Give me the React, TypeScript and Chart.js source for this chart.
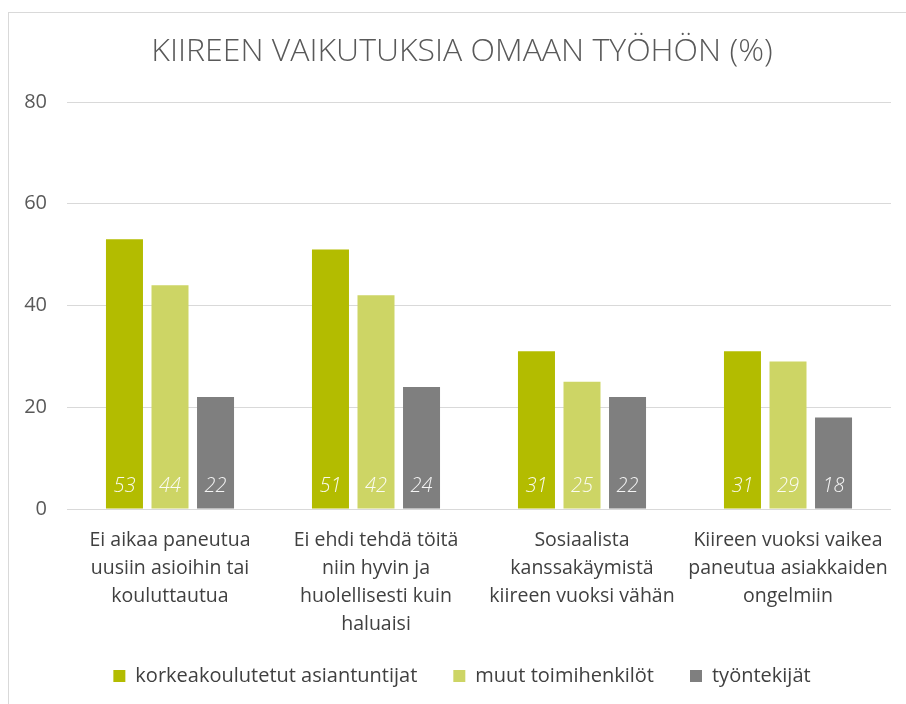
import React, { useEffect, useRef } from "react";
import { Chart, registerables } from "chart.js";

Chart.register(...registerables);

const TITLE = "KIIREEN VAIKUTUKSIA OMAAN TYÖHÖN (%)";

const categories: string[][] = [
  ["Ei aikaa paneutua", "uusiin asioihin tai", "kouluttautua"],
  ["Ei ehdi tehdä töitä", "niin hyvin ja", "huolellisesti kuin", "haluaisi"],
  ["Sosiaalista", "kanssakäymistä", "kiireen vuoksi vähän"],
  ["Kiireen vuoksi vaikea", "paneutua asiakkaiden", "ongelmiin"],
];

const seriesNames = ["korkeakoulutetut asiantuntijat", "muut toimihenkilöt", "työntekijät"];

const korkeakoulutetut = [53, 51, 31, 31];
const toimihenkilot = [44, 42, 25, 29];
const tyontekijat = [22, 24, 22, 18];

const colors = ["#b3bc00", "#cdd565", "#7f7f7f"];

const yTicks = [0, 20, 40, 60, 80];

const FONT = "'Open Sans', 'Noto Sans', sans-serif";

const valueLabels = {
  id: "valueLabels",
  afterLayout(chart: any) {
    // let axis labels draw outside the fitted boxes without being clipped
    chart.scales.y.left = 0;
    chart.scales.x.bottom = chart.height;
  },
  afterDatasetsDraw(chart: any) {
    const ctx = chart.ctx;
    const y0 = chart.scales.y.getPixelForValue(0);
    ctx.save();
    ctx.font = `italic 300 20px ${FONT}`;
    ctx.textAlign = "center";
    ctx.textBaseline = "middle";
    ctx.fillStyle = "rgba(255,255,255,0.92)";
    chart.data.datasets.forEach((ds: any, di: number) => {
      const meta = chart.getDatasetMeta(di);
      meta.data.forEach((el: any, i: number) => {
        ctx.fillText(String(ds.data[i]), el.x, y0 - 23);
      });
    });
    ctx.restore();
  },
};

export default function App() {
  const ref = useRef<HTMLCanvasElement | null>(null);

  useEffect(() => {
    if (!ref.current) return;
    const chart = new Chart(ref.current, {
      type: "bar",
      data: {
        labels: categories,
        datasets: [
          { label: seriesNames[0], data: korkeakoulutetut, backgroundColor: colors[0] },
          { label: seriesNames[1], data: toimihenkilot, backgroundColor: colors[1] },
          { label: seriesNames[2], data: tyontekijat, backgroundColor: colors[2] },
        ],
      },
      options: {
        responsive: false,
        animation: false,
        devicePixelRatio: 1,
        layout: { padding: { left: 24, right: 32, top: 0, bottom: 8 } },
        datasets: {
          bar: { categoryPercentage: 0.663, barPercentage: 0.813 },
        },
        scales: {
          x: {
            grid: { display: false, drawTicks: false },
            border: { display: false },
            afterFit: (scale: any) => {
              scale.height = 121;
            },
            ticks: {
              color: "#404040",
              font: { family: FONT, size: 19.5, lineHeight: 1.436 },
              padding: 17,
              maxRotation: 0,
              autoSkip: false,
            },
          },
          y: {
            min: 0,
            max: 80,
            afterBuildTicks: (scale: any) => {
              scale.ticks = yTicks.map((v) => ({ value: v }));
            },
            afterFit: (scale: any) => {
              scale.width = 34;
            },
            grid: { color: "#d9d9d9", drawTicks: false },
            border: { display: false },
            ticks: {
              color: "#595959",
              font: { family: FONT, size: 20 },
              padding: 20,
            },
          },
        },
        plugins: {
          title: {
            display: true,
            text: TITLE,
            color: "#595959",
            font: { family: FONT, size: 32, weight: "300", lineHeight: 1.2 },
            padding: { top: 20, bottom: 30.6 },
          },
          legend: {
            position: "bottom",
            labels: {
              color: "#404040",
              font: { family: FONT, size: 20 },
              boxWidth: 12,
              boxHeight: 12,
              padding: 36,
            },
          },
          tooltip: { enabled: false },
        },
      },
      plugins: [valueLabels],
    } as any);
    return () => chart.destroy();
  }, []);

  return (
    <div
      style={{
        position: "fixed",
        left: 8,
        top: 12,
        right: 0,
        bottom: 0,
        borderTop: "1px solid #d9d9d9",
        borderLeft: "1px solid #d9d9d9",
        overflow: "hidden",
        background: "#fff",
      }}
    >
      <canvas ref={ref} width={914} height={691} style={{ display: "block", width: 914, height: 691 }} />
    </div>
  );
}
